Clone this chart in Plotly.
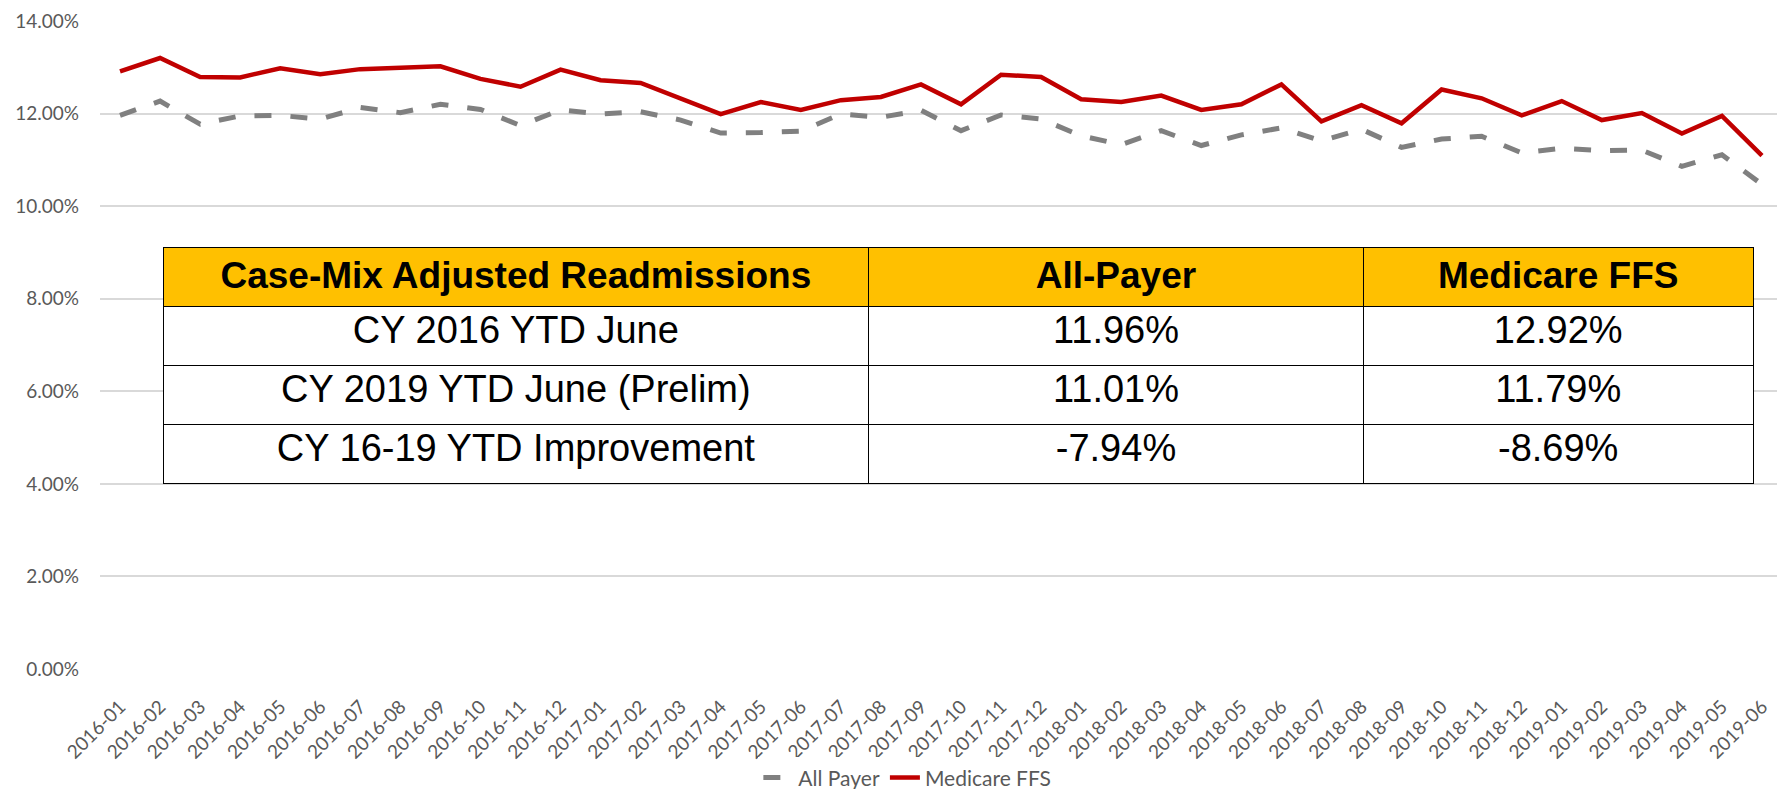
import plotly.graph_objects as go

months = [
    "2016-01", "2016-02", "2016-03", "2016-04", "2016-05", "2016-06",
    "2016-07", "2016-08", "2016-09", "2016-10", "2016-11", "2016-12",
    "2017-01", "2017-02", "2017-03", "2017-04", "2017-05", "2017-06",
    "2017-07", "2017-08", "2017-09", "2017-10", "2017-11", "2017-12",
    "2018-01", "2018-02", "2018-03", "2018-04", "2018-05", "2018-06",
    "2018-07", "2018-08", "2018-09", "2018-10", "2018-11", "2018-12",
    "2019-01", "2019-02", "2019-03", "2019-04", "2019-05", "2019-06",
]

# readmission rates in percent
all_payer = [
    11.96, 12.27, 11.77, 11.95, 11.96, 11.88, 12.13, 12.02, 12.20, 12.09, 11.74, 12.08,
    11.99, 12.04, 11.86, 11.58, 11.59, 11.62, 11.99, 11.92, 12.07, 11.63, 11.97, 11.88,
    11.52, 11.33, 11.63, 11.31, 11.54, 11.69, 11.41, 11.66, 11.27, 11.45, 11.51, 11.15,
    11.25, 11.20, 11.21, 10.86, 11.11, 10.47,
]
medicare_ffs = [
    12.91, 13.20, 12.79, 12.78, 12.98, 12.85, 12.96, 13.00, 13.02, 12.75, 12.58, 12.95,
    12.72, 12.66, 12.33, 11.99, 12.25, 12.08, 12.29, 12.36, 12.63, 12.20, 12.84, 12.79,
    12.31, 12.25, 12.39, 12.08, 12.20, 12.63, 11.83, 12.18, 11.79, 12.52, 12.33, 11.96,
    12.27, 11.86, 12.01, 11.57, 11.95, 11.09,
]

table_header = ["Case-Mix Adjusted Readmissions", "All-Payer", "Medicare FFS"]
table_rows = ["CY 2016 YTD June", "CY 2019 YTD June (Prelim)", "CY 16-19 YTD Improvement"]
table_all_payer = ["11.96%", "11.01%", "-7.94%"]
table_medicare = ["12.92%", "11.79%", "-8.69%"]

grey_text = "#595959"
table_font = "Liberation Sans, Arial, sans-serif"

fig = go.Figure()
fig.add_trace(go.Scatter(
    x=months, y=all_payer, name="All Payer", mode="lines",
    line=dict(color="#808080", width=5, dash="17px,19px"),
))
fig.add_trace(go.Scatter(
    x=months, y=medicare_ffs, name="Medicare FFS", mode="lines",
    line=dict(color="#C00000", width=4.5),
))

fig.add_trace(go.Table(
    domain=dict(x=[0.0375, 0.983], y=[0.28, 0.651]),
    columnwidth=[706, 495, 390],
    header=dict(
        values=["<b>%s</b>" % h for h in table_header],
        fill_color="#FFC000",
        line=dict(color="#000000", width=1),
        align="center",
        height=59,
        font=dict(family=table_font, size=37, color="#000000"),
    ),
    cells=dict(
        values=[table_rows, table_all_payer, table_medicare],
        fill_color="#FFFFFF",
        line=dict(color="#000000", width=1),
        align="center",
        height=59,
        font=dict(family=table_font, size=38, color="#000000"),
    ),
))

# the page body keeps its default 8px margin, so the figure is 8px smaller
fig.update_layout(
    width=1777, height=781,
    margin=dict(l=92, r=3, t=13, b=120, autoexpand=False),
    plot_bgcolor="white", paper_bgcolor="white",
    showlegend=True,
    legend=dict(
        orientation="h", x=0.48, xanchor="center", y=-0.168, yanchor="middle",
        font=dict(family="Lato, sans-serif", size=21, color=grey_text),
    ),
)
fig.update_xaxes(
    type="category", range=[-0.5, 41.5], showgrid=False, zeroline=False,
    tickangle=-45, tickfont=dict(family="Lato, sans-serif", size=19, color=grey_text),
    showline=False, ticklabelstandoff=22, automargin=False, ticklabeloverflow="allow",
)
fig.update_yaxes(
    range=[0, 14], dtick=2, tickformat=".2f", ticksuffix="%",
    showgrid=True, gridcolor="#D9D9D9", gridwidth=1.5, zeroline=False,
    tickfont=dict(family="Lato, sans-serif", size=19, color=grey_text),
    ticklabelstandoff=20, automargin=False, ticklabeloverflow="allow",
)

fig.write_html("out.html")
